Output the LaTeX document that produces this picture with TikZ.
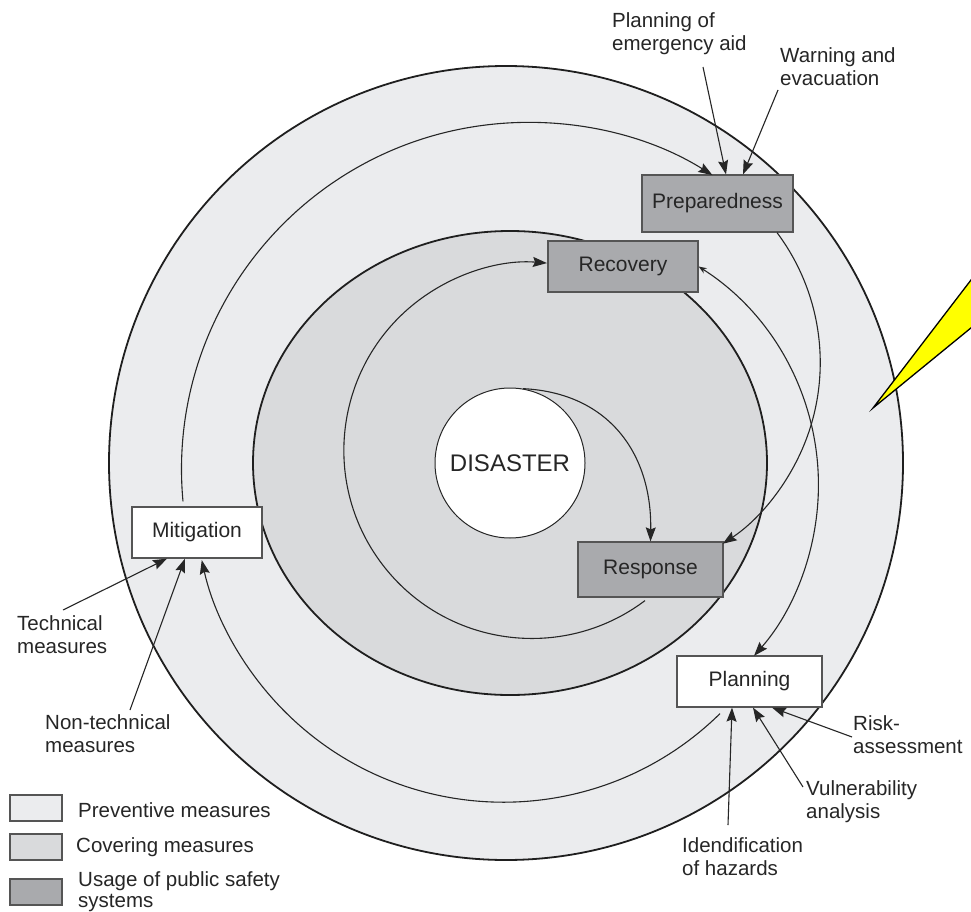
\documentclass[tikz,border=0pt]{standalone}
\usepackage{fontspec}
\setmainfont{Liberation Sans}
\usetikzlibrary{arrows.meta,calc}
\definecolor{prevfill}{HTML}{EBECEE}
\definecolor{coverfill}{HTML}{D9DADC}
\definecolor{usagefill}{HTML}{A9AAAD}
\definecolor{ink}{HTML}{262626}
\definecolor{edge}{HTML}{555555}
\definecolor{callout}{HTML}{FFFF00}

\begin{document}
\begin{tikzpicture}[x=1pt,y=-1pt,
  every node/.style={text=ink},
  stagebox/.style={draw=edge, line width=1.2pt, minimum height=51pt, inner sep=0pt,
                   font=\fontsize{21}{24}\selectfont},
  usagebox/.style={stagebox, fill=usagefill},
  plainbox/.style={stagebox, fill=white},
  lbl/.style={anchor=north west, inner sep=0pt, align=left,
              font=\fontsize{20.5}{23.5}\selectfont},
  legbox/.style={draw=edge, line width=1.1pt, minimum width=52pt, minimum height=26pt, inner sep=0pt},
  flow/.style={draw=ink, line width=1.1pt, -{Stealth[length=14pt,width=10pt,inset=2pt]}},
  ring/.style={draw=black!88, line width=1.8pt},
]
\useasboundingbox (0,0) rectangle (971,912);
\clip (0,0) rectangle (971,912);
\fill[white] (0,0) rectangle (971,912);

% zones: preventive (outer) and covering (middle)
\draw[ring, fill=prevfill] (506,463) circle [radius=397];
\draw[ring, fill=coverfill] (510,463) ellipse [x radius=257, y radius=232];

% stages of the cycle
\node[usagebox, minimum width=151pt, minimum height=57pt] (prep) at (717.5,203.5) {Preparedness};
\node[usagebox, minimum width=150pt] (rec) at (623,266.5) {Recovery};
\node[usagebox, minimum width=145pt, minimum height=55pt] (resp) at (650.5,569.5) {Response};
\node[plainbox, minimum width=130pt] (mit) at (197,532.5) {Mitigation};
\node[plainbox, minimum width=145pt] (plan) at (749.5,681.5) {Planning};
\node[circle, draw=ink, line width=1pt, fill=white, minimum size=150pt, inner sep=0pt,
      font=\fontsize{24}{28}\selectfont] (dis) at (510,463) {DISASTER};

% cycle connectors
\draw[flow] (dis.80) .. controls (610,393) and (652,455) .. (resp.north);
\draw[flow] ([xshift=-5.5pt,yshift=-3pt]resp.south) arc[start angle=53, end angle=274.6, radius=188];
\draw[draw=ink, line width=1.1pt, {Stealth[length=8pt,width=6pt]}-{Stealth[length=14pt,width=10pt,inset=2pt]}]
  (rec.east) arc[start angle=-57.5, end angle=41.3, radius=259];
\draw[flow] ([xshift=-29.5pt,yshift=-6pt]plan.south) arc[start angle=45.5, end angle=167.5, radius=309];
\draw[flow] ([xshift=-14pt,yshift=5pt]mit.north) arc[start angle=174.7, end angle=302, radius=347];
\draw[flow] ([xshift=59.5pt]prep.south) arc[start angle=-36.8, end angle=56.6, radius=217];

% measure labels
\node[lbl] (pea) at (612,12) {Planning of\\emergency aid};
\node[lbl] (wae) at (780,47) {Warning and\\evacuation};
\node[lbl] (tech) at (17,615) {Technical\\measures};
\node[lbl] (ntech) at (45,714) {Non-technical\\measures};
\node[lbl] (risk) at (853,715) {Risk-\\assessment};
\node[lbl] (vuln) at (806,780) {Vulnerability\\analysis};
\node[lbl] (iden) at (682,837) {Idendification\\of hazards};

\coordinate (peaT) at (703,67);
\coordinate (waeT) at (778,90);
\coordinate (techT) at (63,610);
\coordinate (ntechT) at (130,710);
\coordinate (riskT) at (852,737);
\coordinate (vulnT) at (803,787);
\coordinate (idenT) at (728,825);

\draw[flow] (peaT) -- ([xshift=8.5pt]prep.north);
\draw[flow] (waeT) -- ([xshift=25.5pt]prep.north);
\draw[flow] (techT) -- ([xshift=-30pt]mit.south);
\draw[flow] (ntechT) -- ([xshift=-12pt]mit.south);
\draw[flow] (idenT) -- ([xshift=-17.5pt]plan.south);
\draw[flow] (vulnT) -- ([xshift=3.5pt]plan.south);
\draw[flow] (riskT) -- ([xshift=22.5pt]plan.south);

% callout pointer
\draw[fill=callout, draw=black, line width=1.3pt, line join=miter]
  (873,408) -- (1010,229) -- (1010,296) -- cycle;

% legend
\node[legbox, fill=prevfill] (lg1) at (36,808) {};
\node[legbox, fill=coverfill] (lg2) at (36,847) {};
\node[legbox, fill=usagefill] (lg3) at (36,892) {};
\node[lbl] (lt1) at (78,802) {Preventive measures};
\node[lbl] (lt2) at (76,837) {Covering measures};
\node[lbl, font=\fontsize{20.5}{21}\selectfont] (lt3) at (78,871) {Usage of public safety\\systems};
\end{tikzpicture}
\end{document}
